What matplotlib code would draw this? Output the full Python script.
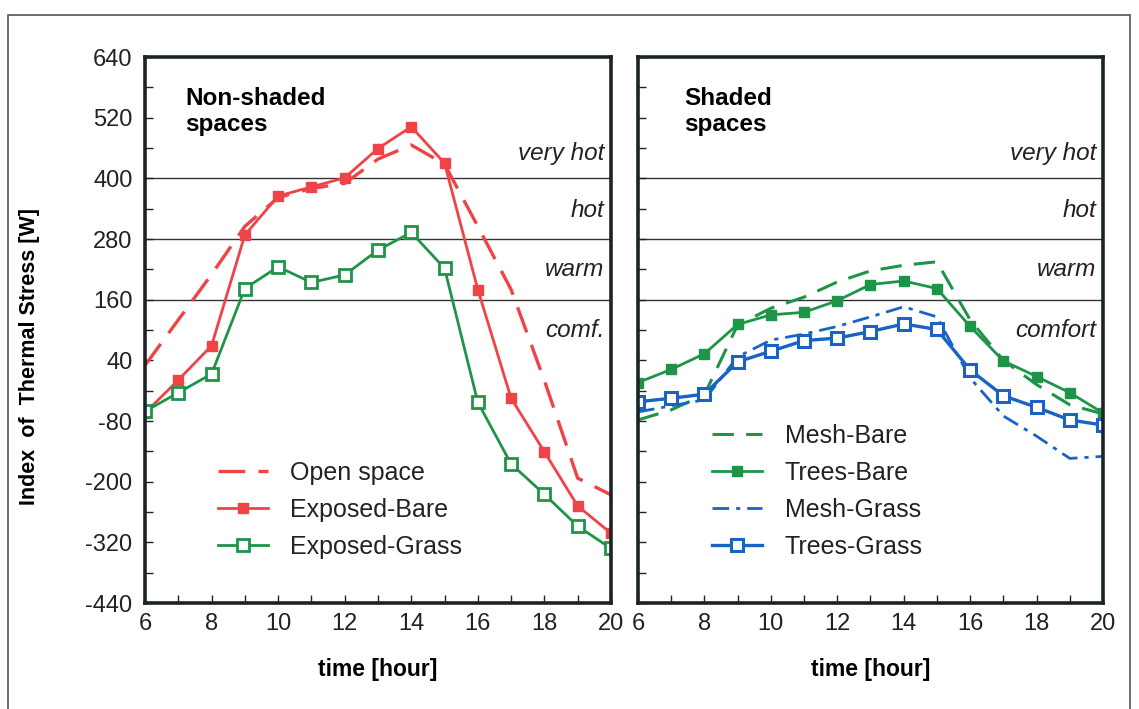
import matplotlib.pyplot as plt
from matplotlib.patches import Rectangle
from matplotlib.ticker import MultipleLocator

plt.rcParams['font.family'] = ['Liberation Sans', 'DejaVu Sans']
plt.rcParams['axes.unicode_minus'] = False

hours = list(range(6, 21))

# non-shaded spaces
open_space = [30, 120, 210, 305, 362, 380, 390, 438, 466, 428, 305, 180, 0, -193, -226]
exposed_bare = [-64, 1, 69, 288, 365, 383, 401, 459, 502, 430, 180, -35, -141, -248, -302]
exposed_grass = [-61, -24, 13, 182, 225, 194, 209, 258, 293, 222, -43, -165, -225, -288, -332]

# shaded spaces
mesh_bare = [-78, -58, -28, 110, 143, 165, 195, 217, 228, 235, 120, 40, -8, -48, -66]
trees_bare = [-4, 22, 53, 111, 130, 135, 158, 190, 197, 182, 107, 39, 8, -24, -64]
mesh_grass = [-62, -50, -38, 47, 80, 92, 107, 126, 146, 126, 5, -70, -110, -154, -150]
trees_grass = [-42, -35, -27, 37, 58, 79, 84, 97, 112, 101, 21, -30, -53, -78, -88]

y_major = [-440, -320, -200, -80, 40, 160, 280, 400, 520, 640]
y_minor = [-380, -260, -140, -20, 100, 220, 340, 460, 580]

zone_limits = [160, 280, 400]
zone_y = [100, 219, 337, 450]
zones_left = ['comf.', 'warm', 'hot', 'very hot']
zones_right = ['comfort', 'warm', 'hot', 'very hot']

red = '#ef4347'
green = '#1e9448'
blue = '#1863c4'

fig = plt.figure(figsize=(11.39, 7.09), dpi=100)
fig.patches.append(Rectangle((8 / 1139, -0.02), 1122 / 1139, 1 - 15 / 709 + 0.02,
                             transform=fig.transFigure, fill=False,
                             edgecolor='#555555', linewidth=1.2))

ax1 = fig.add_axes([0.1273, 0.1495, 0.4091, 0.7701])
ax2 = fig.add_axes([0.5601, 0.1495, 0.4083, 0.7701])

for ax, zones in ((ax1, zones_left), (ax2, zones_right)):
    ax.set_xlim(6, 20)
    ax.set_ylim(-440, 640)
    for v in zone_limits:
        ax.axhline(v, color='#333333', linewidth=1.0, zorder=1)
    for y, name in zip(zone_y, zones):
        ax.text(19.8, y, name, ha='right', va='center', style='italic',
                fontsize=17.5, color='#222222')
    ax.xaxis.set_major_locator(MultipleLocator(2))
    ax.xaxis.set_minor_locator(MultipleLocator(1))
    ax.set_yticks(y_major)
    ax.set_yticks(y_minor, minor=True)
    ax.tick_params(which='both', direction='in', length=6, width=1.0,
                   labelsize=17, color='#222222', labelcolor='#222222')
    ax.tick_params(axis='x', pad=7)
    ax.tick_params(axis='y', pad=9)
    for s in ax.spines.values():
        s.set_linewidth(2.6)
        s.set_color('#1b2326')
    ax.set_xlabel('time [hour]', fontsize=16.5, fontweight='bold', labelpad=17)

ax2.set_yticklabels([])
ax1.set_ylabel('Index  of  Thermal Stress [W]', fontsize=15.5, fontweight='bold')
ax1.yaxis.set_label_coords(-0.225, 0.452)

ax1.plot(hours, open_space, color=red, linewidth=2.4, dashes=(8, 4), label='Open space')
ax1.plot(hours, exposed_bare, color=red, linewidth=2, marker='s', markersize=7,
         label='Exposed-Bare')
ax1.plot(hours, exposed_grass, color=green, linewidth=2, marker='s', markersize=8,
         markerfacecolor='white', markeredgewidth=2, label='Exposed-Grass')

ax2.plot(hours, mesh_bare, color=green, linewidth=2.2, dashes=(7, 4), label='Mesh-Bare')
ax2.plot(hours, trees_bare, color=green, linewidth=2, marker='s', markersize=7,
         label='Trees-Bare')
ax2.plot(hours, mesh_grass, color=blue, linewidth=2, dashes=(6, 2.5, 1.5, 2.5),
         label='Mesh-Grass')
ax2.plot(hours, trees_grass, color=blue, linewidth=2.4, marker='s', markersize=9,
         markerfacecolor='white', markeredgewidth=2.2, label='Trees-Grass')

ax1.text(7.2, 580, 'Non-shaded\nspaces', fontsize=17.5, fontweight='bold',
         va='top', ha='left', linespacing=1.15)
ax2.text(7.4, 580, 'Shaded\nspaces', fontsize=17.5, fontweight='bold',
         va='top', ha='left', linespacing=1.15)

leg_kw = dict(frameon=False, fontsize=18, handlelength=2.0, handletextpad=0.9,
              labelspacing=0.52, labelcolor='#222222', borderaxespad=0)
ax1.legend(loc='center left', bbox_to_anchor=(0.135, 0.171), **leg_kw)
ax2.legend(loc='center left', bbox_to_anchor=(0.138, 0.205), **leg_kw)

fig.savefig('out.png', dpi=100)
